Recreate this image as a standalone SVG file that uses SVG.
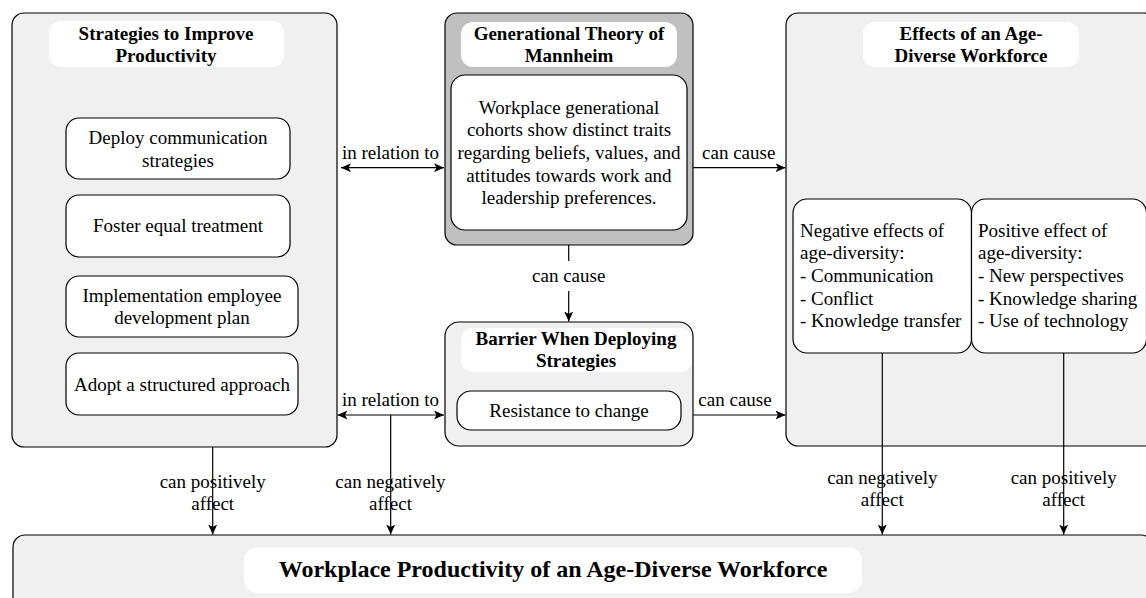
<svg xmlns="http://www.w3.org/2000/svg" width="1146" height="598" viewBox="0 0 1146 598">
<defs>
<style>
.cont{fill:#f0f0f0;stroke:#000;stroke-width:1.2}
.gray{fill:#c0c0c0;stroke:#000;stroke-width:1.2}
.ttl{fill:#fff;stroke:none}
.box{fill:#fff;stroke:#000;stroke-width:1.2}
.t{font-family:"Liberation Serif","Times New Roman",serif;font-size:19px;fill:#000}
.c{text-anchor:middle}
.b{font-weight:bold}
.big{font-size:24px}
.ln{stroke:#000;stroke-width:1.2;fill:none}
</style>
<marker id="ah" viewBox="0 0 10 9" refX="10" refY="4.5" markerWidth="10" markerHeight="9" markerUnits="userSpaceOnUse" orient="auto-start-reverse">
<path d="M0,0 L10,4.5 L0,9 L2.5,4.5 Z" fill="#000"/>
</marker>
</defs>
<rect width="1146" height="598" fill="#fff"/>

<g id="strategies">
<rect class="cont" x="12" y="13" width="325" height="434" rx="12"/>
<rect class="ttl" x="49" y="21" width="235" height="46" rx="12"/>
<text class="t c b" x="166" y="39.5">Strategies to Improve</text>
<text class="t c b" x="166" y="61.5">Productivity</text>
</g>
<g id="deploy">
<rect class="box" x="66" y="118" width="224" height="61" rx="13"/>
<text class="t c" x="178" y="144">Deploy communication</text>
<text class="t c" x="178" y="166.5">strategies</text>
</g>
<g id="foster">
<rect class="box" x="66" y="195" width="224" height="62" rx="13"/>
<text class="t c" x="178" y="231.5">Foster equal treatment</text>
</g>
<g id="implement">
<rect class="box" x="66" y="276" width="232" height="61" rx="13"/>
<text class="t c" x="182" y="301.5">Implementation employee</text>
<text class="t c" x="182" y="324">development plan</text>
</g>
<g id="adopt">
<rect class="box" x="66" y="353" width="232" height="62" rx="13"/>
<text class="t c" x="182" y="390.5">Adopt a structured approach</text>
</g>

<g id="mannheim">
<rect class="gray" x="445" y="13" width="248" height="232" rx="12"/>
<rect class="ttl" x="461" y="22" width="216" height="45" rx="12"/>
<text class="t c b" x="569" y="39.5">Generational Theory of</text>
<text class="t c b" x="569" y="61.5">Mannheim</text>
<rect class="box" x="451" y="75" width="236" height="155" rx="14"/>
<text class="t c" x="569" y="113.8">Workplace generational</text>
<text class="t c" x="569" y="136.4">cohorts show distinct traits</text>
<text class="t c" x="569" y="159">regarding beliefs, values, and</text>
<text class="t c" x="569" y="181.6">attitudes towards work and</text>
<text class="t c" x="569" y="204.2">leadership preferences.</text>
</g>

<g id="barrier">
<rect class="cont" x="445" y="322" width="248" height="124" rx="14"/>
<rect class="ttl" x="461" y="328" width="231" height="44" rx="12"/>
<text class="t c b" x="576" y="344.8">Barrier When Deploying</text>
<text class="t c b" x="576" y="366.5">Strategies</text>
<rect class="box" x="457" y="391" width="224" height="39" rx="14"/>
<text class="t c" x="569" y="416.5">Resistance to change</text>
</g>

<g id="effects">
<rect class="cont" x="786" y="13" width="370" height="433" rx="12"/>
<rect class="ttl" x="863" y="22" width="216" height="45" rx="12"/>
<text class="t c b" x="971" y="39.5">Effects of an Age-</text>
<text class="t c b" x="971" y="61.5">Diverse Workforce</text>
</g>
<g id="negative">
<rect class="box" x="793" y="199" width="178.5" height="154" rx="14"/>
<text class="t" x="800" y="236.5">Negative effects of</text>
<text class="t" x="800" y="259.2">age-diversity:</text>
<text class="t" x="800" y="281.9">- Communication</text>
<text class="t" x="800" y="304.6">- Conflict</text>
<text class="t" x="800" y="327.3">- Knowledge transfer</text>
</g>
<g id="positive">
<rect class="box" x="971.5" y="199" width="175" height="154" rx="14"/>
<text class="t" x="978" y="236.5">Positive effect of</text>
<text class="t" x="978" y="259.2">age-diversity:</text>
<text class="t" x="978" y="281.9">- New perspectives</text>
<text class="t" x="978" y="304.6">- Knowledge sharing</text>
<text class="t" x="978" y="327.3">- Use of technology</text>
</g>

<g id="productivity">
<rect class="cont" x="13" y="535" width="1140" height="90" rx="12"/>
<rect class="ttl" x="244" y="547" width="618" height="46" rx="14"/>
<text class="t c b big" x="553" y="577">Workplace Productivity of an Age-Diverse Workforce</text>
</g>

<g id="connectors">
<line class="ln" x1="341" y1="167.7" x2="444" y2="167.7" marker-start="url(#ah)" marker-end="url(#ah)"/>
<text class="t c" x="390.5" y="158.5">in relation to</text>
<line class="ln" x1="337.5" y1="415" x2="444" y2="415" marker-start="url(#ah)" marker-end="url(#ah)"/>
<text class="t c" x="390.5" y="405.5">in relation to</text>
<line class="ln" x1="390.7" y1="415" x2="390.7" y2="534.5" marker-end="url(#ah)"/>
<text class="t c" x="390.5" y="488">can negatively</text>
<text class="t c" x="390.5" y="509.5">affect</text>
<line class="ln" x1="212.7" y1="447" x2="212.7" y2="534.5" marker-end="url(#ah)"/>
<text class="t c" x="212.7" y="488">can positively</text>
<text class="t c" x="212.7" y="509.5">affect</text>
<line class="ln" x1="568.7" y1="245" x2="568.7" y2="321.5" marker-end="url(#ah)"/>
<rect x="528" y="261" width="82" height="30" fill="#fff"/>
<text class="t c" x="568.7" y="282">can cause</text>
<line class="ln" x1="693" y1="167.7" x2="785.5" y2="167.7" marker-end="url(#ah)"/>
<text class="t c" x="738.7" y="158.5">can cause</text>
<line class="ln" x1="693" y1="415" x2="785.5" y2="415" marker-end="url(#ah)"/>
<text class="t c" x="735" y="405.5">can cause</text>
<line class="ln" x1="882.3" y1="353" x2="882.3" y2="534.5" marker-end="url(#ah)"/>
<text class="t c" x="882.3" y="484">can negatively</text>
<text class="t c" x="882.3" y="506">affect</text>
<line class="ln" x1="1063.7" y1="353" x2="1063.7" y2="534.5" marker-end="url(#ah)"/>
<text class="t c" x="1063.7" y="484">can positively</text>
<text class="t c" x="1063.7" y="506">affect</text>
</g>
</svg>
